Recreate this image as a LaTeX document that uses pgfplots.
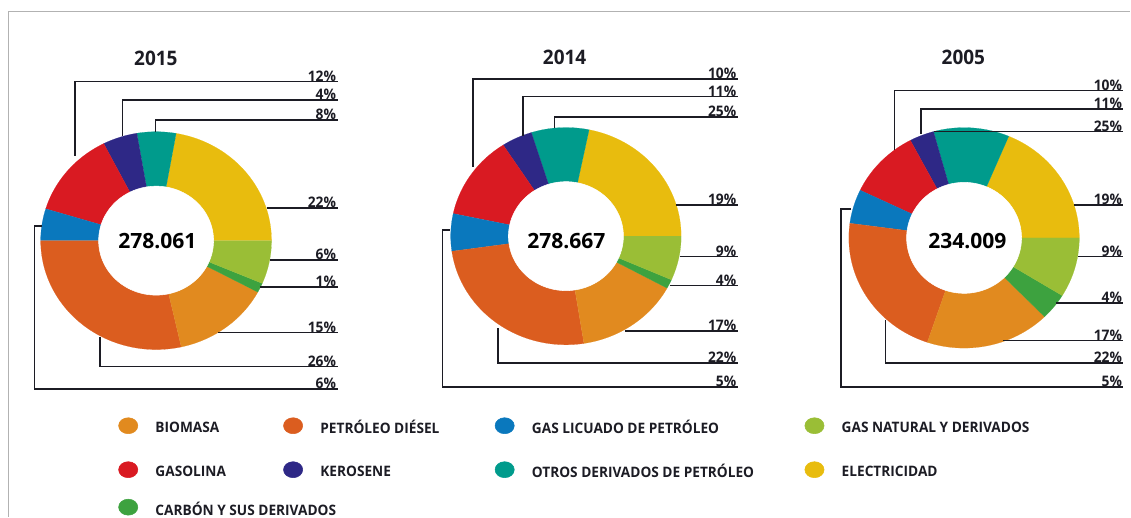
\documentclass[border=0pt]{standalone}
\usepackage{fontspec}
\setmainfont{Open Sans}[FakeStretch=0.95]
\newfontfamily\ctrfont{Open Sans}
\usepackage{pgfplots}
\pgfplotsset{compat=1.18}
\definecolor{cBio}{HTML}{E18A1F}
\definecolor{cDie}{HTML}{DB5D1F}
\definecolor{cGlp}{HTML}{0A78BD}
\definecolor{cGas}{HTML}{9ABE36}
\definecolor{cGasol}{HTML}{D91A22}
\definecolor{cKer}{HTML}{2E2886}
\definecolor{cOtr}{HTML}{009B8C}
\definecolor{cEle}{HTML}{E8BC0E}
\definecolor{cCar}{HTML}{3DA23F}
\definecolor{txt}{HTML}{1C1C24}
\tikzset{
  leader/.style={draw=txt, line width=1.1pt, mark=none},
  pct/.style={anchor=south east, inner sep=0pt, text=txt, font=\bfseries\fontsize{10.9}{10.9}\selectfont},
  legtxt/.style={anchor=west, inner sep=0pt, text=txt, font=\bfseries\fontsize{10.8}{11}\selectfont},
  ttl/.style={anchor=center, inner sep=0pt, text=txt, font=\bfseries\fontsize{15}{15}\selectfont},
  ctr/.style={anchor=center, inner sep=0pt, text=black, font=\ctrfont\bfseries\fontsize{15.8}{16}\selectfont},
}
% slice: colour, start angle, end angle, cx, cy, rx, ry
\newcommand\slice[7]{%
  \addplot[fill=#1, draw=#1, line width=0.1pt, domain=#2:#3, samples=60, variable=\t]
    ({#4+#6*cos(\t)},{#5-#7*sin(\t)}) -- (axis cs:#4,#5) -- cycle;}
\newcommand\hole[4]{%
  \addplot[fill=white, draw=white, domain=0:360, samples=100, variable=\t]
    ({#1+#3*cos(\t)},{#2-#4*sin(\t)}) -- cycle;}
% leader: coordinates, end point, label
\newcommand\lead[3]{%
  \addplot[leader] coordinates {#1};
  \node[pct] at (axis cs:#2) {#3};}
\newcommand\legitem[4]{% colour, x, y, text
  \addplot[only marks, mark=*, mark size=6pt, mark options={xscale=1.2, fill=#1, draw=#1}] coordinates {(#2,#3)};
  \node[legtxt] at (axis cs:#2+27,#3+1.5) {#4};}
\begin{document}
\begin{tikzpicture}
\begin{axis}[
  scale only axis, width=848.25pt, height=387.75pt,
  xmin=0, xmax=1131, ymin=0, ymax=517, y dir=reverse,
  hide axis, clip=false,
]
\addplot[draw=none, mark=none] coordinates {(0,0) (1131,517)};
% frame
\addplot[draw=black!30, line width=1.1pt, mark=none] coordinates {(8.5,517) (8.5,11.7) (1131,11.7)};

% ---------- 2015 ----------
\slice{cEle}{0}{80}{156.2}{240.8}{115.5}{109}
\slice{cOtr}{80}{99.6}{156.2}{240.8}{115.5}{109}
\slice{cKer}{99.6}{117}{156.2}{240.8}{115.5}{109}
\slice{cGasol}{117}{163}{156.2}{240.8}{115.5}{109}
\slice{cGlp}{163}{180}{156.2}{240.8}{115.5}{109}
\slice{cDie}{180}{282.6}{156.2}{240.8}{115.5}{109}
\slice{cBio}{282.6}{331.8}{156.2}{240.8}{115.5}{109}
\slice{cCar}{331.8}{336.9}{156.2}{240.8}{115.5}{109}
\slice{cGas}{336.9}{360}{156.2}{240.8}{115.5}{109}
\hole{156.2}{240.8}{57.5}{54.5}
\lead{(75,156) (75,81.7) (338,81.7)}{336.5,81.7}{12\%}
\lead{(122.7,136) (122.7,100) (338,100)}{336.5,100}{4\%}
\lead{(155.7,132.5) (155.7,120) (338,120)}{336.5,120}{8\%}
\lead{(266.7,208.3) (338,208.3)}{336.5,208.3}{22\%}
\lead{(270,260) (338,260)}{336.5,260}{6\%}
\lead{(260,287.3) (338,287.3)}{336.5,287.3}{1\%}
\lead{(218.3,332.7) (338,332.7)}{336.5,332.7}{15\%}
\lead{(100,337) (100,366.7) (338,366.7)}{336.5,366.7}{26\%}
\lead{(41.7,226) (34.3,226) (34.3,389.3) (338,389.3)}{336.5,389.3}{6\%}
\node[ttl] at (axis cs:156,58.5) {2015};
\node[ctr] at (axis cs:157.5,241) {278.061};

% ---------- 2014 ----------
\slice{cEle}{0}{78.4}{566.3}{236.3}{115.3}{108.7}
\slice{cOtr}{78.4}{107.5}{566.3}{236.3}{115.3}{108.7}
\slice{cKer}{107.5}{123}{566.3}{236.3}{115.3}{108.7}
\slice{cGasol}{123}{168}{566.3}{236.3}{115.3}{108.7}
\slice{cGlp}{168}{188}{566.3}{236.3}{115.3}{108.7}
\slice{cDie}{188}{279}{566.3}{236.3}{115.3}{108.7}
\slice{cBio}{279}{331.4}{566.3}{236.3}{115.3}{108.7}
\slice{cCar}{331.4}{336.3}{566.3}{236.3}{115.3}{108.7}
\slice{cGas}{336.3}{360}{566.3}{236.3}{115.3}{108.7}
\hole{566.3}{236.3}{57.5}{54.5}
\lead{(473.3,167) (473.3,79) (738.3,79)}{737,79}{10\%}
\lead{(523.3,136) (523.3,96.7) (738.3,96.7)}{737,96.7}{11\%}
\lead{(555,128.5) (555,117.3) (738.3,117.3)}{737,117.3}{25\%}
\lead{(676.7,205) (738.3,205)}{737,205}{19\%}
\lead{(680,256.7) (738.3,256.7)}{737,256.7}{9\%}
\lead{(670,285.7) (738.3,285.7)}{737,285.7}{4\%}
\lead{(625,331) (738.3,331)}{737,331}{17\%}
\lead{(498.3,328.3) (498.3,363.3) (738.3,363.3)}{737,363.3}{22\%}
\lead{(450,230) (442.7,230) (442.7,387.3) (738.3,387.3)}{737,387.3}{5\%}
\node[ttl] at (axis cs:565,57.5) {2014};
\node[ctr] at (axis cs:566.7,241) {278.667};

% ---------- 2005 ----------
\slice{cEle}{0}{67.2}{964.7}{238}{115.3}{110.3}
\slice{cOtr}{67.2}{105.4}{964.7}{238}{115.3}{110.3}
\slice{cKer}{105.4}{117.8}{964.7}{238}{115.3}{110.3}
\slice{cGasol}{117.8}{154.4}{964.7}{238}{115.3}{110.3}
\slice{cGlp}{154.4}{172.4}{964.7}{238}{115.3}{110.3}
\slice{cDie}{172.4}{251.4}{964.7}{238}{115.3}{110.3}
\slice{cBio}{251.4}{314.3}{964.7}{238}{115.3}{110.3}
\slice{cCar}{314.3}{328.4}{964.7}{238}{115.3}{110.3}
\slice{cGas}{328.4}{360}{964.7}{238}{115.3}{110.3}
\hole{964.7}{238}{57.5}{55.5}
\lead{(895,150) (895,90.7) (1123.3,90.7)}{1123,90.7}{10\%}
\lead{(921.7,134) (921.7,109.3) (1123.3,109.3)}{1123,109.3}{11\%}
\lead{(935,131.7) (1123.3,131.7)}{1123,131.7}{25\%}
\lead{(1075,205) (1123.3,205)}{1123,205}{19\%}
\lead{(1078.3,256.7) (1123.3,256.7)}{1123,256.7}{9\%}
\lead{(1056.7,303.3) (1123.3,303.3)}{1123,303.3}{4\%}
\lead{(1003.3,340.7) (1123.3,340.7)}{1123,340.7}{17\%}
\lead{(886,320) (886,363.3) (1123.3,363.3)}{1123,363.3}{22\%}
\lead{(851.7,209.3) (841.7,209.3) (841.7,387.3) (1123.3,387.3)}{1123,387.3}{5\%}
\node[ttl] at (axis cs:964,57.5) {2005};
\node[ctr] at (axis cs:968,241) {234.009};

% ---------- legend ----------
\legitem{cBio}{128.3}{426}{BIOMASA}
\legitem{cDie}{293.3}{426}{PETRÓLEO DIÉSEL}
\legitem{cGlp}{505}{426}{GAS LICUADO DE PETRÓLEO}
\legitem{cGas}{815}{426}{GAS NATURAL Y DERIVADOS}
\legitem{cGasol}{128.3}{470}{GASOLINA}
\legitem{cKer}{293.3}{470}{KEROSENE}
\legitem{cOtr}{505}{470}{OTROS DERIVADOS DE PETRÓLEO}
\legitem{cEle}{815}{470}{ELECTRICIDAD}
\legitem{cCar}{128.3}{507.5}{CARBÓN Y SUS DERIVADOS}
\end{axis}
\end{tikzpicture}
\end{document}
